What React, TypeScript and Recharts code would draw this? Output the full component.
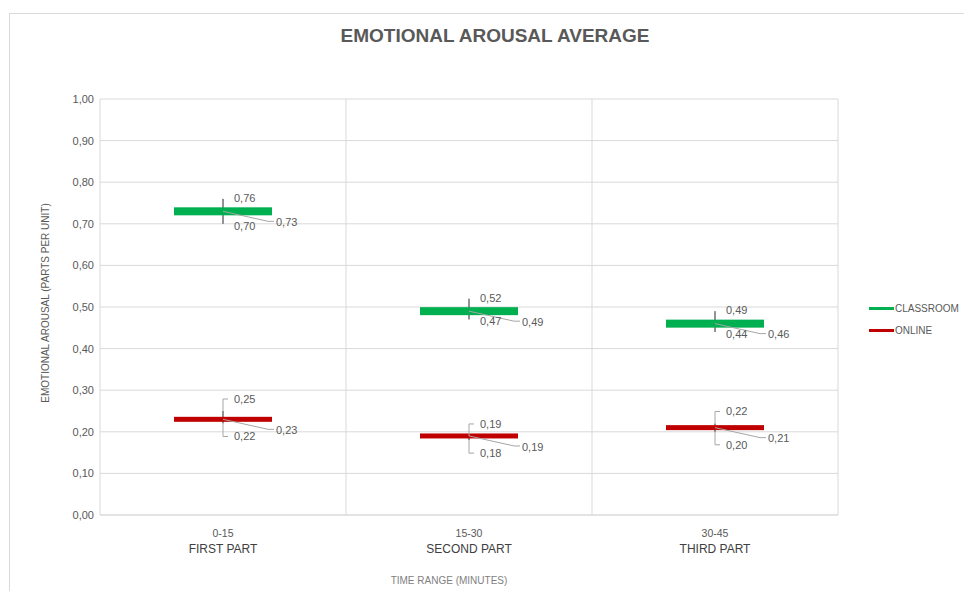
import React from 'react';
import { ComposedChart, Scatter, ErrorBar, XAxis, YAxis, CartesianGrid } from 'recharts';

// Data
const ranges = ['0-15', '15-30', '30-45'];
const parts = ['FIRST PART', 'SECOND PART', 'THIRD PART'];
const classroomHigh = [0.76, 0.52, 0.49];
const classroomLow = [0.7, 0.47, 0.44];
const classroomClose = [0.73, 0.49, 0.46];
const onlineHigh = [0.25, 0.19, 0.22];
const onlineLow = [0.22, 0.18, 0.2];
const onlineClose = [0.23, 0.19, 0.21];
const yTicks = [0, 0.1, 0.2, 0.3, 0.4, 0.5, 0.6, 0.7, 0.8, 0.9, 1];

const GREEN = '#00b050';
const RED = '#c00000';
const TEXT = '#595959';
const GRID = '#d9d9d9';
const FONT = '"Liberation Sans", Arial, sans-serif';

const chartData = ranges.map((range, i) => ({
  range,
  part: parts[i],
  classroom: classroomClose[i],
  classroomHigh: classroomHigh[i],
  classroomLow: classroomLow[i],
  classroomErr: [classroomClose[i] - classroomLow[i], classroomHigh[i] - classroomClose[i]],
  online: onlineClose[i],
  onlineHigh: onlineHigh[i],
  onlineLow: onlineLow[i],
  onlineErr: [onlineClose[i] - onlineLow[i], onlineHigh[i] - onlineClose[i]],
}));

const fmt = (v: number) => v.toFixed(2).replace('.', ',');

// thick horizontal "close" marker + its label with a leader line
const closeShape = (color: string, thickness: number) => (props: any) => {
  const { cx, cy, node } = props;
  return (
    <g>
      <rect x={cx - 49} y={cy - thickness / 2} width={98} height={thickness} fill={color} />
      <polyline
        points={`${cx},${cy} ${cx + 45},${cy + 10} ${cx + 51},${cy + 10}`}
        fill="none"
        stroke="#a6a6a6"
        strokeWidth={1}
      />
      <text x={cx + 53} y={cy + 11} dy="0.35em" fontSize={11} fill={TEXT} fontFamily={FONT}>
        {fmt(node.y)}
      </text>
    </g>
  );
};

// high / low value labels, bracket leader when pushed away
const hlShape = (dy: number, bracket: boolean) => (props: any) => {
  const { cx, cy, node } = props;
  const ty = cy + dy;
  return (
    <g>
      {bracket && (
        <polyline
          points={`${cx},${cy} ${cx},${ty} ${cx + 5},${ty}`}
          fill="none"
          stroke="#a6a6a6"
          strokeWidth={1}
        />
      )}
      <text x={cx + 11} y={ty} dy="0.35em" fontSize={11} fill={TEXT} fontFamily={FONT}>
        {fmt(node.y)}
      </text>
    </g>
  );
};

const XTick = (props: any) => {
  const { x, y, payload, index } = props;
  return (
    <g>
      <text x={x} y={y + 14} textAnchor="middle" fontSize={10.5} fill={TEXT} fontFamily={FONT}>
        {payload.value}
      </text>
      <text x={x} y={y + 30} textAnchor="middle" fontSize={12} fill="#404040" fontFamily={FONT}>
        {parts[index]}
      </text>
    </g>
  );
};

const legendItems = [
  { name: 'CLASSROOM', color: GREEN },
  { name: 'ONLINE', color: RED },
];

export default function App() {
  return (
    <div
      style={{
        position: 'relative',
        width: 972,
        height: 599,
        margin: -8,
        overflow: 'hidden',
        background: '#fff',
        fontFamily: FONT,
      }}
    >
      <div
        style={{
          position: 'absolute',
          left: 9,
          top: 13,
          width: 1000,
          height: 700,
          border: '1px solid ' + GRID,
        }}
      />
      <div
        style={{
          position: 'absolute',
          left: 0,
          width: 990,
          top: 25,
          textAlign: 'center',
          fontSize: 19,
          fontWeight: 'bold',
          color: TEXT,
        }}
      >
        EMOTIONAL AROUSAL AVERAGE
      </div>
      <ComposedChart
        width={972}
        height={599}
        data={chartData}
        margin={{ top: 99, right: 134, bottom: 54, left: 60 }}
        style={{ position: 'absolute', left: 0, top: 0 }}
      >
        <CartesianGrid
          stroke={GRID}
          verticalCoordinatesGenerator={({ offset }: any) =>
            [0, 1, 2, 3].map((i) => offset.left + (i * offset.width) / 3)
          }
        />
        <XAxis
          dataKey="range"
          type="category"
          axisLine={{ stroke: GRID }}
          tickLine={false}
          height={30}
          interval={0}
          padding={{ left: 123, right: 123 }}
          tick={<XTick />}
          label={{
            content: ({ viewBox }: any) => (
              <text
                x={viewBox.x + viewBox.width / 2 - 20}
                y={viewBox.y + 69}
                textAnchor="middle"
                fontSize={10}
                fill="#7f7f7f"
                fontFamily={FONT}
              >
                TIME RANGE (MINUTES)
              </text>
            ),
          }}
        />
        <YAxis
          type="number"
          domain={[0, 1]}
          ticks={yTicks}
          width={40}
          axisLine={false}
          tickLine={false}
          tickSize={4}
          tickFormatter={fmt}
          tick={{ fontSize: 11, fill: TEXT, fontFamily: FONT }}
          label={{
            content: ({ viewBox }: any) => {
              const x = viewBox.x - 11;
              const y = viewBox.y + viewBox.height / 2 - 4;
              return (
                <text
                  x={x}
                  y={y}
                  transform={`rotate(-90 ${x} ${y})`}
                  textAnchor="middle"
                  fontSize={10}
                  fill={TEXT}
                  fontFamily={FONT}
                >
                  EMOTIONAL AROUSAL (PARTS PER UNIT)
                </text>
              );
            },
          }}
        />
        <Scatter dataKey="classroom" isAnimationActive={false} shape={closeShape(GREEN, 8)}>
          <ErrorBar dataKey="classroomErr" direction="y" width={0} stroke="#262626" strokeWidth={1} />
        </Scatter>
        <Scatter dataKey="online" isAnimationActive={false} shape={closeShape(RED, 5)}>
          <ErrorBar dataKey="onlineErr" direction="y" width={0} stroke="#262626" strokeWidth={1} />
        </Scatter>
        <Scatter dataKey="classroomHigh" isAnimationActive={false} shape={hlShape(-1, false)} />
        <Scatter dataKey="classroomLow" isAnimationActive={false} shape={hlShape(2, false)} />
        <Scatter dataKey="onlineHigh" isAnimationActive={false} shape={hlShape(-12, true)} />
        <Scatter dataKey="onlineLow" isAnimationActive={false} shape={hlShape(13, true)} />
      </ComposedChart>
      <div style={{ position: 'absolute', left: 869, top: 297 }}>
        {legendItems.map((it) => (
          <div key={it.name} style={{ display: 'flex', alignItems: 'center', height: 22 }}>
            <div style={{ width: 25, height: 3, background: it.color }} />
            <span style={{ fontSize: 10, color: TEXT, marginLeft: 1 }}>{it.name}</span>
          </div>
        ))}
      </div>
    </div>
  );
}
